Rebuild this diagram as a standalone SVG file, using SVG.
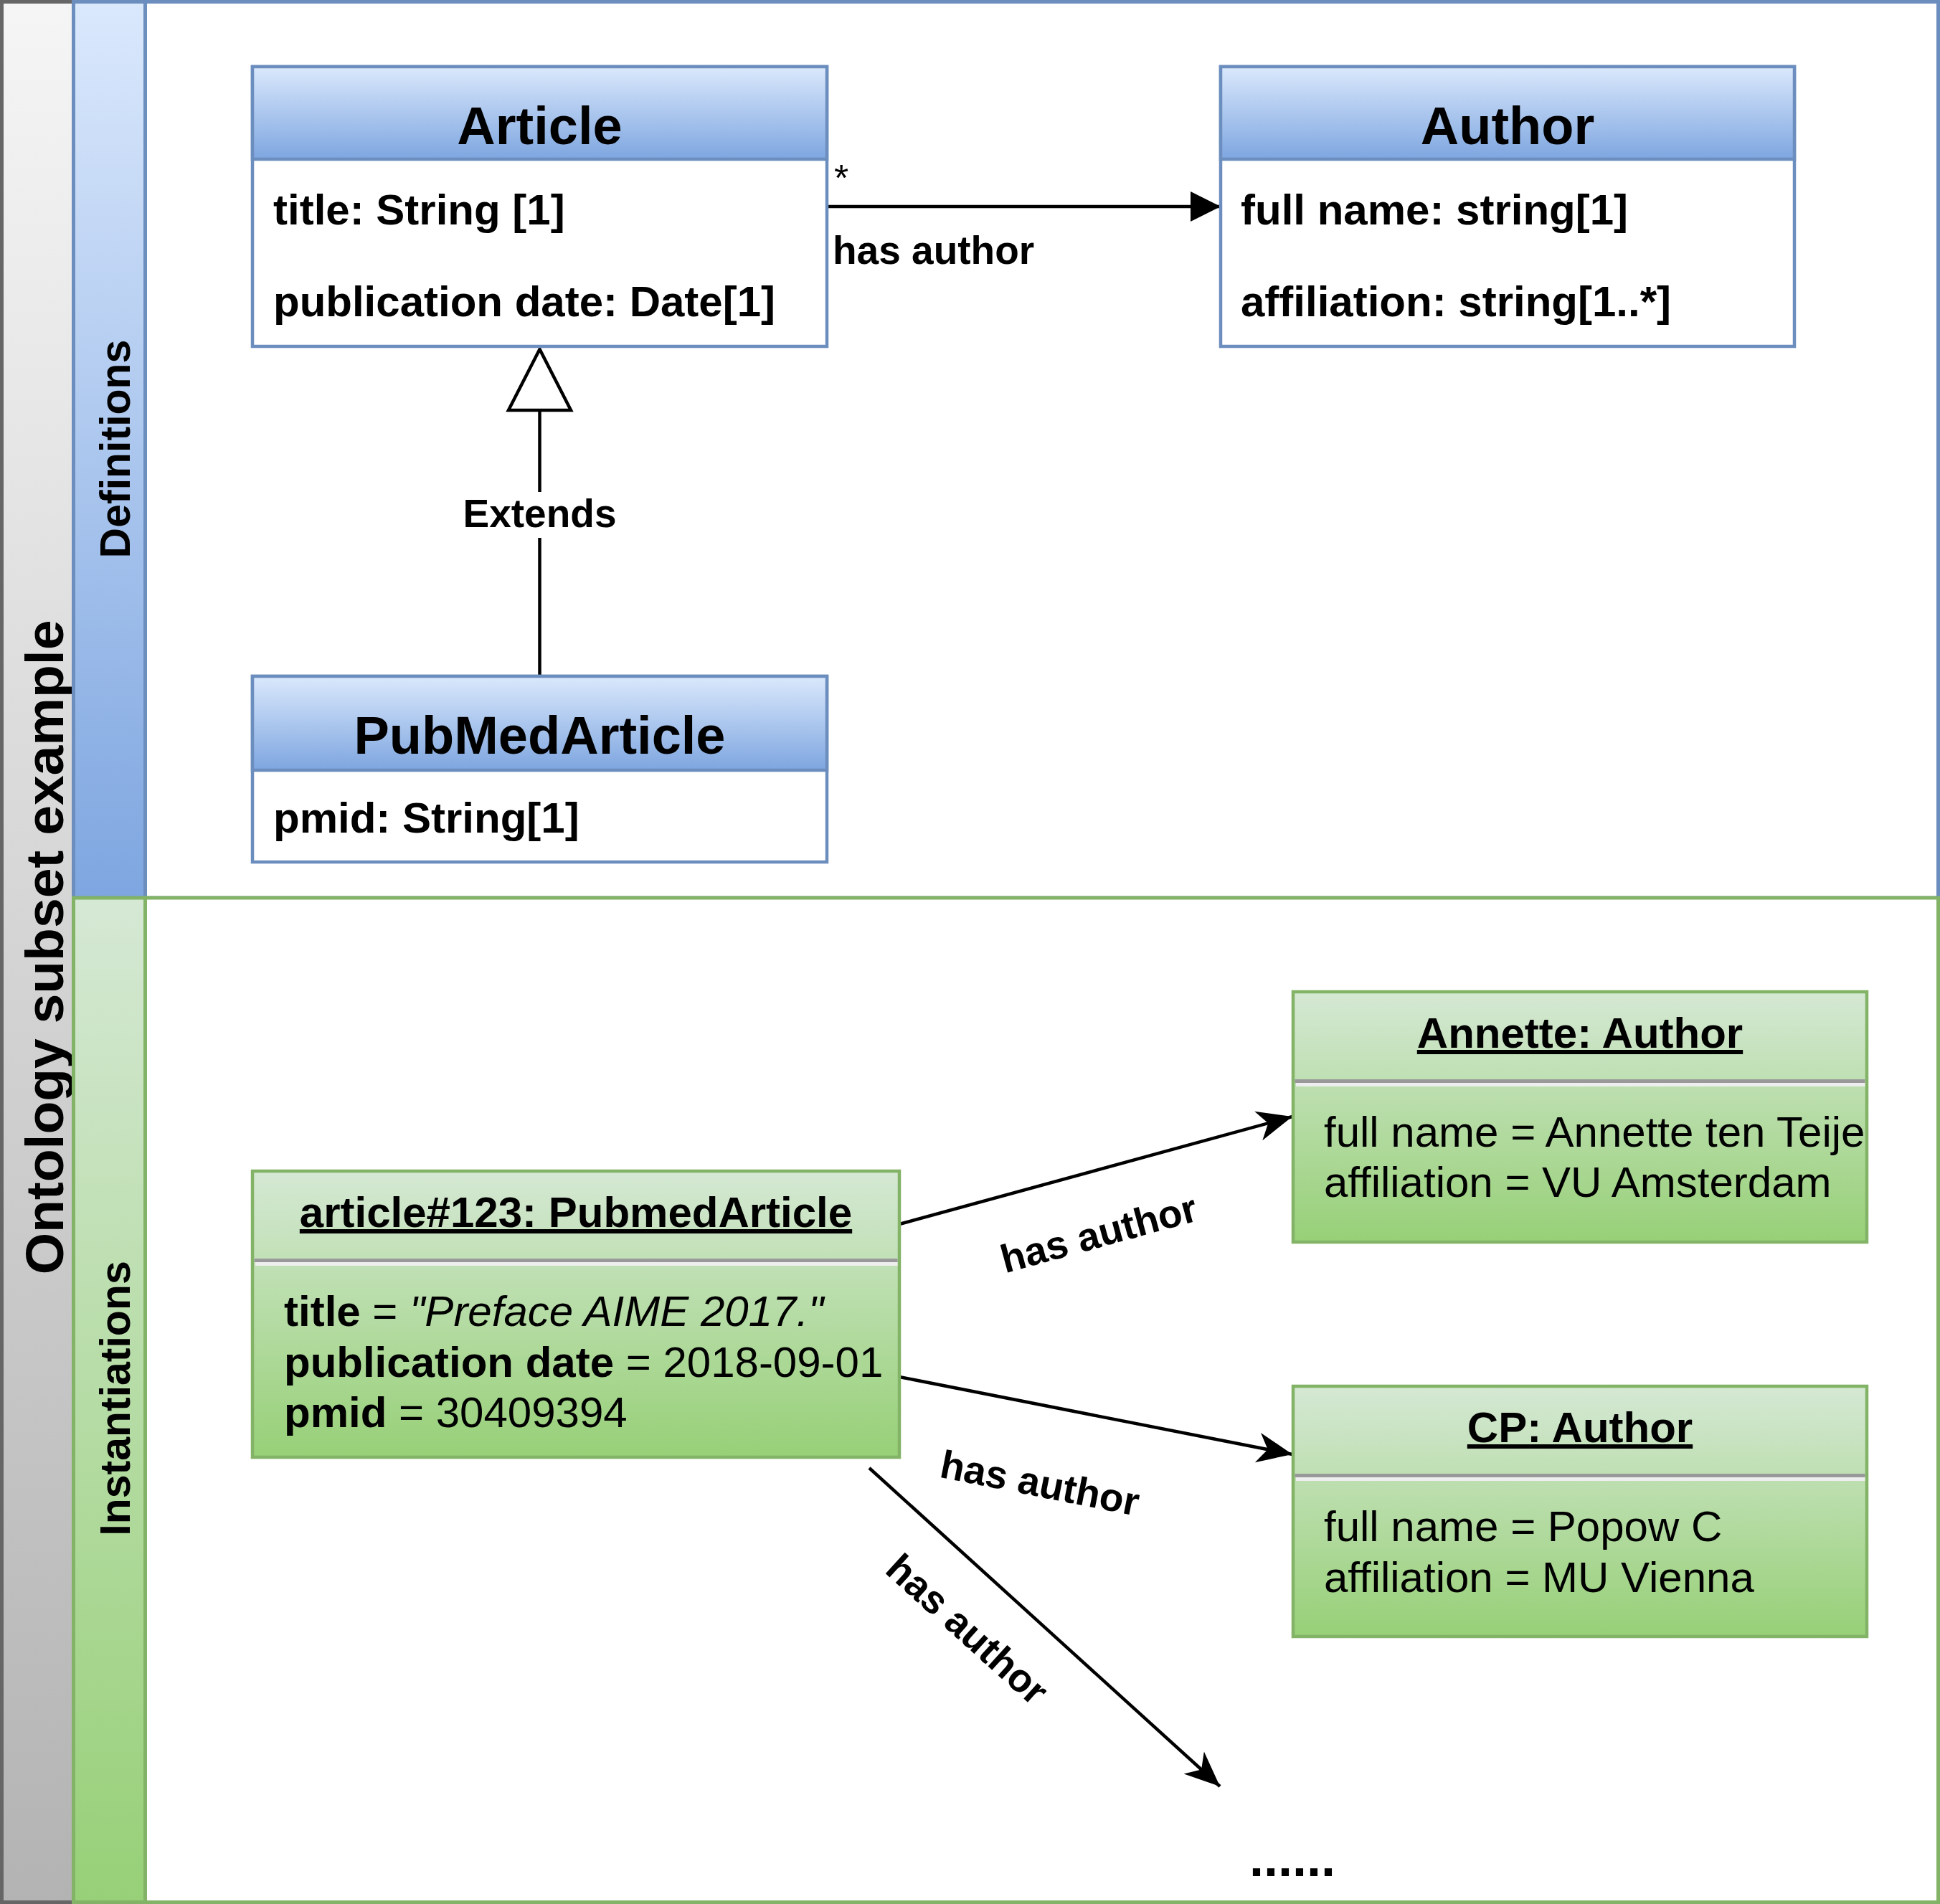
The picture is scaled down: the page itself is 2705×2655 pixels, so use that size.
<svg xmlns="http://www.w3.org/2000/svg" width="2705" height="2655" viewBox="0 0 2705 2655">
<defs>
<linearGradient id="gGray" x1="0" y1="0" x2="0" y2="1"><stop offset="0" stop-color="#f5f5f5"/><stop offset="1" stop-color="#b3b3b3"/></linearGradient>
<linearGradient id="gBlue" x1="0" y1="0" x2="0" y2="1"><stop offset="0" stop-color="#dae8fc"/><stop offset="1" stop-color="#7ea6e0"/></linearGradient>
<linearGradient id="gGreen" x1="0" y1="0" x2="0" y2="1"><stop offset="0" stop-color="#d5e8d4"/><stop offset="1" stop-color="#97d077"/></linearGradient>
<marker id="block" markerUnits="userSpaceOnUse" markerWidth="50" markerHeight="50" refX="42" refY="21" orient="auto" overflow="visible">
<path d="M0,0 L42,21 L0,42 Z" fill="#000"/>
</marker>
<marker id="classic" markerUnits="userSpaceOnUse" markerWidth="60" markerHeight="60" refX="49" refY="21" orient="auto" overflow="visible">
<path d="M0,0 L49,21 L0,42 L14,21 Z" fill="#000"/>
</marker>
</defs>
<style>
text{font-family:"Liberation Sans",Arial,sans-serif;fill:#000}
.b{font-weight:bold}
.lane{font-weight:bold;font-size:59px}
.hdr{font-weight:bold;font-size:74px}
.attr{font-weight:bold;font-size:60px}
.lbl{font-weight:bold;font-size:55px}
.inst{font-size:60px}
.ttl{font-weight:bold;font-size:60px;text-decoration:underline}
.cls{fill:#fff;stroke:#6c8ebf;stroke-width:4.5}
.clsh{fill:url(#gBlue);stroke:#6c8ebf;stroke-width:4.5}
.obj{fill:url(#gGreen);stroke:#82b366;stroke-width:4.5}
.edge{fill:none;stroke:#000;stroke-width:4.5}
</style>
<g id="pool">
<rect x="2.5" y="2.5" width="100" height="2650" fill="url(#gGray)" stroke="#666666" stroke-width="5"/>
<text class="b" font-size="75" text-anchor="middle" transform="translate(88,1321) rotate(-90)">Ontology subset example</text>
</g>
<g id="lane-definitions">
<rect x="102.5" y="2.5" width="100" height="1249.5" fill="url(#gBlue)" stroke="#6c8ebf" stroke-width="5"/>
<rect x="202.5" y="2.5" width="2500" height="1249.5" fill="#fff" stroke="#6c8ebf" stroke-width="5"/>
<text class="lane" text-anchor="middle" transform="translate(181,626) rotate(-90)">Definitions</text>
</g>
<g id="lane-instantiations">
<rect x="102.5" y="1252" width="100" height="1400.5" fill="url(#gGreen)" stroke="#82b366" stroke-width="5"/>
<rect x="202.5" y="1252" width="2500" height="1400.5" fill="#fff" stroke="#82b366" stroke-width="5"/>
<text class="lane" text-anchor="middle" transform="translate(181,1950) rotate(-90)">Instantiations</text>
</g>
<g id="connectors">
<line class="edge" x1="1153" y1="288" x2="1702" y2="288" marker-end="url(#block)"/>
<text font-size="52" x="1163" y="266">*</text>
<text class="lbl" x="1161" y="368">has author</text>
<line class="edge" x1="752.5" y1="943" x2="752.5" y2="572"/>
<polygon points="752.5,487 709,572 796,572" fill="#fff" stroke="#000" stroke-width="4.5"/>
<rect x="640" y="686" width="225" height="64" fill="#fff"/>
<text class="lbl" x="752.5" y="735" text-anchor="middle">Extends</text>
<line class="edge" x1="1254" y1="1707" x2="1802" y2="1557" marker-end="url(#classic)"/>
<line class="edge" x1="1254" y1="1920" x2="1802" y2="2028" marker-end="url(#classic)"/>
<line class="edge" x1="1212" y1="2047" x2="1701" y2="2491" marker-end="url(#classic)"/>
<text class="lbl" text-anchor="middle" y="19" transform="translate(1532,1720) rotate(-15.3)">has author</text>
<text class="lbl" text-anchor="middle" y="19" transform="translate(1450,2068) rotate(11.15)">has author</text>
<text class="lbl" text-anchor="middle" y="19" transform="translate(1349,2272) rotate(42.2)">has author</text>
</g>
<g id="node-article">
<rect class="cls" x="352" y="93" width="801" height="390"/>
<rect class="clsh" x="352" y="93" width="801" height="129"/>
<text class="hdr" x="752.5" y="201" text-anchor="middle">Article</text>
<text class="attr" x="381" y="313">title: String [1]</text>
<text class="attr" x="381" y="441">publication date: Date[1]</text>
</g>
<g id="node-author">
<rect class="cls" x="1702" y="93" width="800" height="390"/>
<rect class="clsh" x="1702" y="93" width="800" height="129"/>
<text class="hdr" x="2102" y="201" text-anchor="middle">Author</text>
<text class="attr" x="1730" y="313">full name: string[1]</text>
<text class="attr" x="1730" y="441">affiliation: string[1..*]</text>
</g>
<g id="node-pubmedarticle">
<rect class="cls" x="352" y="943" width="801" height="259"/>
<rect class="clsh" x="352" y="943" width="801" height="131"/>
<text class="hdr" x="752.5" y="1051" text-anchor="middle">PubMedArticle</text>
<text class="attr" x="381" y="1161">pmid: String[1]</text>
</g>
<g id="node-article123">
<rect class="obj" x="352" y="1633" width="902" height="399"/>
<rect x="354.5" y="1755" width="897" height="5" fill="#999999"/>
<rect x="356" y="1760" width="895.5" height="5" fill="#eeeeee"/>
<text class="ttl" x="803" y="1711" text-anchor="middle">article#123: PubmedArticle</text>
<text class="inst" x="396" y="1849"><tspan class="b">title</tspan> = <tspan font-style="italic">"Preface AIME 2017."</tspan></text>
<text class="inst" x="396" y="1920"><tspan class="b">publication date</tspan> = 2018-09-01</text>
<text class="inst" x="396" y="1990"><tspan class="b">pmid</tspan> = 30409394</text>
</g>
<g id="node-annette">
<rect class="obj" x="1803" y="1383" width="800" height="349"/>
<rect x="1805.5" y="1505" width="795" height="5" fill="#999999"/>
<rect x="1807" y="1510" width="793.5" height="5" fill="#eeeeee"/>
<text class="ttl" x="2203" y="1461" text-anchor="middle">Annette: Author</text>
<text class="inst" x="1846" y="1599">full name = Annette ten Teije</text>
<text class="inst" x="1846" y="1669">affiliation = VU Amsterdam</text>
</g>
<g id="node-cp">
<rect class="obj" x="1803" y="1933" width="800" height="349"/>
<rect x="1805.5" y="2055" width="795" height="5" fill="#999999"/>
<rect x="1807" y="2060" width="793.5" height="5" fill="#eeeeee"/>
<text class="ttl" x="2203" y="2011" text-anchor="middle">CP: Author</text>
<text class="inst" x="1846" y="2149">full name = Popow C</text>
<text class="inst" x="1846" y="2220">affiliation = MU Vienna</text>
</g>
<g id="node-more">
<text class="b" font-size="72" x="1802" y="2616" text-anchor="middle">......</text>
</g>
</svg>
